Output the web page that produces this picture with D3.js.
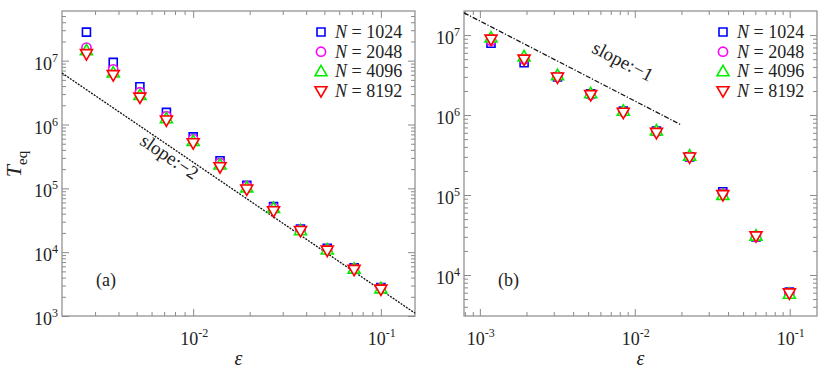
<!DOCTYPE html>
<html>
<head>
<meta charset="utf-8">
<script src="https://cdn.jsdelivr.net/npm/d3@7"></script>
<style>
  body { margin: 0; background: #fff; }
</style>
</head>
<body>
<div id="chart"></div>
<script>
// series names and colours
var sizes = ["1024", "2048", "4096", "8192"];
var colors = ["#0000ff", "#ff00ff", "#00ee00", "#ff0000"];
var shapes = ["square", "circle", "up", "down"];

// panel (a)
var epsA = [0.0027, 0.00375, 0.0052, 0.0072, 0.01, 0.0139, 0.0193, 0.0268, 0.0373, 0.0518, 0.072, 0.1];
var tA1024 = [2.8e7, 9.4e6, 3.9e6, 1.55e6, 6.4e5, 2.7e5, 1.12e5, 5.2e4, 2.3e4, 1.15e4, 5.7e3, 2.8e3];
var tA2048 = [1.6e7, 7.3e6, 3.2e6, 1.35e6, 5.9e5, 2.5e5, 1.08e5, 5.0e4, 2.25e4, 1.12e4, 5.6e3, 2.75e3];
var tA4096 = [1.45e7, 6.5e6, 2.9e6, 1.25e6, 5.5e5, 2.35e5, 1.03e5, 4.9e4, 2.2e4, 1.1e4, 5.5e3, 2.7e3];
var tA8192 = [1.27e7, 5.95e6, 2.65e6, 1.16e6, 5.1e5, 2.15e5, 9.6e4, 4.4e4, 2.15e4, 1.06e4, 5.3e3, 2.6e3];
var slopeA = { c: 25.6, p: -2, from: 0.002, to: 0.152 };

// panel (b)
var epsB = [0.00118, 0.00193, 0.00317, 0.00519, 0.00843, 0.0138, 0.0226, 0.037, 0.0606, 0.0995];
var tB1024 = [7.9e6, 4.5e6, 3.0e6, 1.85e6, 1.12e6, 6.3e5, 3.0e5, 1.1e5, 3.0e4, 6.1e3];
var tB2048 = [8.5e6, 5.0e6, 3.05e6, 1.8e6, 1.1e6, 6.2e5, 3.0e5, 1.05e5, 3.0e4, 6.0e3];
var tB4096 = [9.3e6, 5.4e6, 3.15e6, 1.87e6, 1.13e6, 6.4e5, 3.1e5, 1.0e5, 3.1e4, 5.8e3];
var tB8192 = [8.8e6, 4.95e6, 2.95e6, 1.78e6, 1.07e6, 6.0e5, 2.95e5, 1.0e5, 3.05e4, 5.9e3];
var slopeB = { c: 1.5e4, p: -1, from: 0.00079, to: 0.02 };

var svg = d3.select("#chart").append("svg")
    .attr("width", 830)
    .attr("height", 368);

var panels = [
    { left: 62, right: 415, top: 11, bottom: 316,
      xDom: [0.002, 0.152], yDom: [1e3, 6.0e7],
      xMajor: [1e-2, 1e-1], yMajor: [1e3, 1e4, 1e5, 1e6, 1e7],
      eps: epsA, series: [tA1024, tA2048, tA4096, tA8192],
      slope: slopeA, dash: "2,1.2", slopeText: "slope:\u22122", slopePos: [166, 162], slopeAng: 34,
      tag: "(a)", yLabel: true },
    { left: 464, right: 817, top: 11, bottom: 316,
      xDom: [0.00079, 0.15], yDom: [3.07e3, 2.0e7],
      xMajor: [1e-3, 1e-2, 1e-1], yMajor: [1e4, 1e5, 1e6, 1e7],
      eps: epsB, series: [tB1024, tB2048, tB4096, tB8192],
      slope: slopeB, dash: "5,1.8,1.2,1.8", slopeText: "slope:\u22121", slopePos: [620, 67], slopeAng: 27.3,
      tag: "(b)", yLabel: false }
];

function minors(dom) {
    var out = [];
    for (var k = Math.floor(Math.log10(dom[0])); k <= Math.ceil(Math.log10(dom[1])); k++) {
        for (var m = 2; m <= 9; m++) {
            var v = m * Math.pow(10, k);
            if (v > dom[0] && v < dom[1]) out.push(v);
        }
    }
    return out;
}

function markerPath(shape) {
    if (shape == "square") return "M-4,-4H4V4H-4Z";
    if (shape == "circle") return "M4.6,0A4.6,4.6 0 1,1 -4.6,0A4.6,4.6 0 1,1 4.6,0Z";
    if (shape == "up") return "M0,-6L6,4.4H-6Z";
    return "M0,6L6,-4.4H-6Z";
}

function addText(g) {
    return g.append("text")
        .style("font-family", "'Liberation Serif'")
        .attr("fill", "#222");
}

function supLabel(g, x, y, v, anchor) {
    var t = addText(g)
        .attr("x", x).attr("y", y)
        .attr("text-anchor", anchor)
        .attr("font-size", 18);
    t.append("tspan").text("10");
    t.append("tspan").attr("font-size", 12).attr("dy", -8).text(Math.round(Math.log10(v)));
}

panels.forEach(function (p) {
    var x = d3.scaleLog().domain(p.xDom).range([p.left, p.right]);
    var y = d3.scaleLog().domain(p.yDom).range([p.bottom, p.top]);
    var g = svg.append("g");

    // ticks on all four sides, pointing inward
    var axes = [
        [d3.axisBottom(x), p.bottom, "x"],
        [d3.axisTop(x), p.top, "x"],
        [d3.axisLeft(y), p.left, "y"],
        [d3.axisRight(y), p.right, "y"]
    ];
    axes.forEach(function (a) {
        var majors = a[2] == "x" ? p.xMajor : p.yMajor;
        var mins = a[2] == "x" ? minors(p.xDom) : minors(p.yDom);
        [[majors, 7], [mins, 4]].forEach(function (set) {
            var ax = g.append("g")
                .attr("transform", a[2] == "x" ? "translate(0," + a[1] + ")" : "translate(" + a[1] + ",0)")
                .call(a[0].tickValues(set[0]).tickSize(-set[1]).tickFormat(""));
            ax.select(".domain").remove();
            ax.selectAll("line").attr("stroke", "#8a8a8a").attr("stroke-width", 1);
        });
    });

    g.append("rect")
        .attr("x", p.left).attr("y", p.top)
        .attr("width", p.right - p.left).attr("height", p.bottom - p.top)
        .attr("fill", "none").attr("stroke", "#8a8a8a").attr("stroke-width", 1.2);

    p.xMajor.forEach(function (v) { supLabel(g, x(v) + 1, 345, v, "middle"); });
    p.yMajor.forEach(function (v) { supLabel(g, p.left - 4, y(v) + 9, v, "end"); });

    addText(g)
        .attr("x", (p.left + p.right) / 2).attr("y", 365)
        .attr("text-anchor", "middle")
        .attr("font-size", 20).attr("font-style", "italic")
        .text("\u03b5");

    if (p.yLabel) {
        var yl = addText(g)
            .attr("transform", "translate(21,164) rotate(-90)")
            .attr("text-anchor", "middle")
            .attr("font-size", 22);
        yl.append("tspan").attr("font-style", "italic").text("T");
        yl.append("tspan").attr("font-size", 15).attr("dy", 6).text("eq");
    }

    // guide line
    var s = p.slope;
    var line = d3.line()
        .x(function (d) { return x(d); })
        .y(function (d) { return y(s.c * Math.pow(d, s.p)); });
    g.append("path")
        .datum([s.from, s.to])
        .attr("d", line)
        .attr("fill", "none")
        .attr("stroke", "#111")
        .attr("stroke-width", 1.3)
        .attr("stroke-dasharray", p.dash);

    addText(g)
        .attr("transform", "translate(" + p.slopePos[0] + "," + p.slopePos[1] + ") rotate(" + p.slopeAng + ")")
        .attr("text-anchor", "middle")
        .attr("font-size", 19)
        .text(p.slopeText);

    addText(g)
        .attr("x", p.left + 34).attr("y", 286)
        .attr("font-size", 18)
        .text(p.tag);

    // data markers
    p.series.forEach(function (vals, i) {
        g.selectAll(null)
            .data(vals)
            .enter()
            .append("path")
            .attr("d", markerPath(shapes[i]))
            .attr("transform", function (d, j) { return "translate(" + x(p.eps[j]) + "," + y(d) + ")"; })
            .attr("fill", "#fff")
            .attr("stroke", colors[i])
            .attr("stroke-width", 1.6);
    });

    // legend
    var lx = p.right - 94;
    sizes.forEach(function (n, i) {
        var ly = 32 + i * 19.7;
        g.append("path")
            .attr("d", markerPath(shapes[i]))
            .attr("transform", "translate(" + lx + "," + ly + ")")
            .attr("fill", "#fff")
            .attr("stroke", colors[i])
            .attr("stroke-width", 1.6);
        var t = addText(g)
            .attr("x", lx + 14).attr("y", ly + 6)
            .attr("font-size", 18);
        t.append("tspan").attr("font-style", "italic").text("N");
        t.append("tspan").text(" = " + n);
    });
});
</script>
</body>
</html>
